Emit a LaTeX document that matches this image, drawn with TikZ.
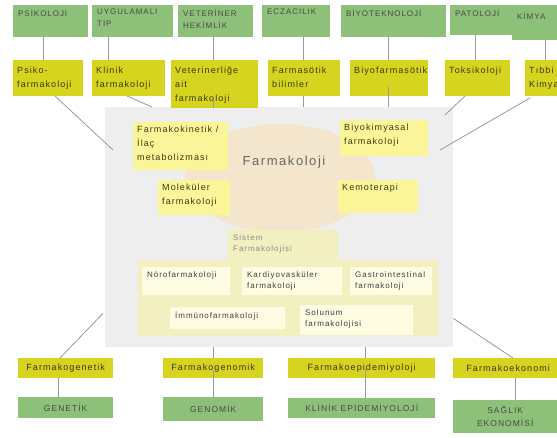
\documentclass[tikz,border=0pt]{standalone}
\usepackage{fontspec}
\setmainfont{Liberation Sans}[LetterSpace=12]
\usetikzlibrary{shapes.geometric,calc}
\definecolor{grn}{HTML}{8DC078}
\definecolor{gtx}{HTML}{4A4A4A}
\definecolor{yel}{HTML}{D6D41E}
\definecolor{ytx}{HTML}{3A3A10}
\definecolor{bgg}{HTML}{EEEEEE}
\definecolor{ell}{HTML}{F4E6CC}
\definecolor{iyel}{HTML}{FAF598}
\definecolor{pale}{HTML}{F2EFC0}
\definecolor{qpale}{HTML}{FDFCE2}
\definecolor{lc}{HTML}{9A9A9A}
\tikzset{
 gbox/.style={fill=grn, inner sep=0pt},
 ybox/.style={fill=yel, inner sep=0pt},
 ibox/.style={fill=iyel, inner sep=0pt},
 pbox/.style={fill=pale, inner sep=0pt},
 qbox/.style={fill=qpale, inner sep=0pt},
 gtxt/.style={font=\fontsize{8}{12}\selectfont, text=gtx, inner xsep=5pt, inner ysep=4pt},
 ytxt/.style={font=\fontsize{9}{14}\selectfont, text=ytx, inner xsep=4pt, inner ysep=7pt},
 itxt/.style={font=\fontsize{9}{14}\selectfont, text=ytx, inner xsep=4pt, inner ysep=4pt},
 stxt/.style={font=\fontsize{8}{11}\selectfont, text=black!45, inner xsep=5pt, inner ysep=4pt},
 qtxt/.style={font=\fontsize{8}{11}\selectfont, text=black!75, inner xsep=5pt, inner ysep=4pt},
 btxt/.style={font=\fontsize{9}{12}\selectfont, text=ytx, align=center},
 bgtxt/.style={font=\fontsize{8.5}{13}\selectfont, text=gtx, align=center},
 conn/.style={draw=lc, line width=0.8pt},
}
\newcommand\mybox[8]{%
 \node[#2, minimum width=#5pt, minimum height=#6pt, anchor=north west,
   label={[#8,anchor=north west,align=left]north west:{#7}}] (#1) at (#3,#4) {};}
\begin{document}
\begin{tikzpicture}[x=1pt,y=-1pt]
\fill[white] (0,0) rectangle (557,437);
\useasboundingbox (0,0) rectangle (557,437);
% central grey area
\node[fill=bgg, inner sep=0pt, minimum width=348pt, minimum height=240pt, anchor=north west] (bg) at (105,107) {};
\node[ellipse, fill=ell, minimum width=190pt, minimum height=108pt, inner sep=0pt] (el) at (280,178) {};
% ---- top green row
\mybox{psik}{gbox}{13}{5}{75}{32}{PSİKOLOJİ}{gtxt}
\mybox{uyg}{gbox}{92}{5}{81}{32}{UYGULAMALI\\TIP}{gtxt}
\mybox{vet}{gbox}{178}{5}{75}{32}{VETERİNER\\HEKİMLİK}{gtxt}
\mybox{ecz}{gbox}{262}{5}{68}{32}{ECZACILIK}{gtxt}
\mybox{biy}{gbox}{341}{5}{105}{32}{BİYOTEKNOLOJİ}{gtxt}
\mybox{pat}{gbox}{450}{5}{107}{30}{PATOLOJİ}{gtxt}
\mybox{kim}{gbox}{512}{8}{50}{32}{KİMYA}{gtxt}
% ---- connectors top (behind yellow boxes)
\draw[conn] ([xshift=35pt]vet.south west) -- ([xshift=35pt]vet.south west |- bg.north);
\draw[conn] ([xshift=41pt]ecz.south west) -- ([xshift=41pt]ecz.south west |- bg.north);
\draw[conn] ([xshift=47pt]biy.south west) -- ([xshift=47pt]biy.south west |- bg.north);
\draw[conn] (55,96) -- ([xshift=8pt,yshift=-43pt]bg.north west);
\draw[conn] (127,96) -- ([xshift=47pt]bg.north west);
\draw[conn] (465,96) -- ([xshift=340pt,yshift=-8pt]bg.north west);
\draw[conn] (530,98) -- ([xshift=335pt,yshift=-43pt]bg.north west);
% ---- yellow row
\mybox{psikf}{ybox}{13}{60}{70}{36}{Psiko-\\farmakoloji}{ytxt}
\mybox{klin}{ybox}{92}{60}{73}{36}{Klinik\\farmakoloji}{ytxt}
\mybox{vetf}{ybox}{171}{60}{87}{48}{Veterinerliğe\\ait\\farmakoloji}{ytxt}
\mybox{farm}{ybox}{268}{60}{72}{36}{Farmasötik\\bilimler}{ytxt}
\mybox{biyf}{ybox}{350}{60}{78}{36}{Biyofarmasötik}{ytxt}
\mybox{tok}{ybox}{445}{60}{65}{36}{Toksikoloji}{ytxt}
\mybox{tib}{ybox}{525}{60}{40}{36}{Tıbbi\\Kimya}{ytxt}
\draw[conn] ([xshift=42pt,yshift=8pt]vetf.south west) -- ([xshift=42pt]vetf.south west);
\draw[conn] ([xshift=38pt,yshift=9pt]biyf.south west) -- ([xshift=38pt]biyf.south west);
% vertical links between rows
\draw[conn] ([xshift=30pt]psik.south west) -- ([xshift=30pt]psikf.north west);
\draw[conn] ([xshift=16pt]uyg.south west) -- ([xshift=16pt]klin.north west);
\draw[conn] ([xshift=35pt]vet.south west) -- ([xshift=42pt]vetf.north west);
\draw[conn] ([xshift=41pt]ecz.south west) -- ([xshift=35pt]farm.north west);
\draw[conn] ([xshift=47pt]biy.south west) -- ([xshift=38pt]biyf.north west);
\draw[conn] ([xshift=25pt]pat.south west) -- ([xshift=30pt]tok.north west);
\draw[conn] ([xshift=33pt]kim.south west) -- ([xshift=20pt]tib.north west);
% ---- Farmakoloji centre
\node[font=\fontsize{13}{15}\selectfont, text=black!60] (fk) at (284,162) {Farmakoloji};
\mybox{fkin}{ibox}{133}{122}{95}{48}{Farmakokinetik /\\İlaç\\metabolizması}{itxt}
\mybox{bkim}{ibox}{340}{120}{88}{36}{Biyokimyasal\\farmakoloji}{itxt}
\mybox{mol}{ibox}{158}{180}{72}{35}{Moleküler\\farmakoloji}{itxt}
\mybox{kem}{ibox}{338}{180}{80}{33}{Kemoterapi}{itxt}
% ---- Sistem farmakolojisi
\mybox{sis}{pbox}{228}{230}{110}{34}{Sistem\\Farmakolojisi}{stxt}
\node[pbox, minimum width=300pt, minimum height=76pt, anchor=north west] (sisr) at (138,260) {};
\mybox{noro}{qbox}{142}{267}{88}{28}{Nörofarmakoloji}{qtxt}
\mybox{kard}{qbox}{242}{267}{100}{28}{Kardiyovasküler\\farmakoloji}{qtxt}
\mybox{gast}{qbox}{350}{267}{82}{28}{Gastrointestinal\\farmakoloji}{qtxt}
\mybox{imm}{qbox}{170}{307}{115}{22}{İmmünofarmakoloji}{qtxt}
\mybox{sol}{qbox}{300}{305}{113}{30}{Solunum\\farmakolojisi}{qtxt}
% ---- bottom rows
\node[ybox, btxt, minimum width=95pt, minimum height=20pt, anchor=north west] (fgen) at (18,358) {Farmakogenetik};
\node[ybox, btxt, minimum width=100pt, minimum height=20pt, anchor=north west] (fgm) at (163,358) {Farmakogenomik};
\node[ybox, btxt, minimum width=147pt, minimum height=20pt, anchor=north west] (fepi) at (288,358) {Farmakoepidemiyoloji};
\node[ybox, btxt, minimum width=110pt, minimum height=20pt, anchor=north west] (fek) at (453,358) {Farmakoekonomi};
\node[gbox, bgtxt, minimum width=95pt, minimum height=21pt, anchor=north west] (gen) at (18,397) {GENETİK};
\node[gbox, bgtxt, minimum width=100pt, minimum height=24pt, anchor=north west] (gnm) at (163,397) {GENOMİK};
\node[gbox, bgtxt, minimum width=147pt, minimum height=20pt, anchor=north west] (kep) at (288,398) {KLİNİK EPİDEMİYOLOJİ};
\node[gbox, bgtxt, minimum width=104pt, minimum height=33pt, anchor=north west] (sag) at (453,400) {SAĞLIK\\EKONOMİSİ};
% bottom connectors
\draw[conn] ([xshift=42pt]fgen.north west) -- ([xshift=-2pt,yshift=34pt]bg.south west);
\draw[conn] ([xshift=40pt]fgen.south west) -- ([xshift=40pt]gen.north west);
\draw[conn] ([xshift=108pt]bg.south west) -- ([xshift=50pt]fgm.north west);
\draw[conn] ([xshift=50pt,yshift=8pt]fgm.south west) -- ([xshift=50pt]gnm.north west);
\draw[conn] ([xshift=260pt]bg.south west) -- ([xshift=77pt]fepi.north west);
\draw[conn] ([xshift=77pt,yshift=9pt]fepi.south west) -- ([xshift=77pt]kep.north west);
\draw[conn] ([yshift=29pt]bg.south east) -- ([xshift=60pt]fek.north west);
\draw[conn] ([xshift=62pt]fek.south west) -- ([xshift=62pt]sag.north west);
\end{tikzpicture}
\end{document}
